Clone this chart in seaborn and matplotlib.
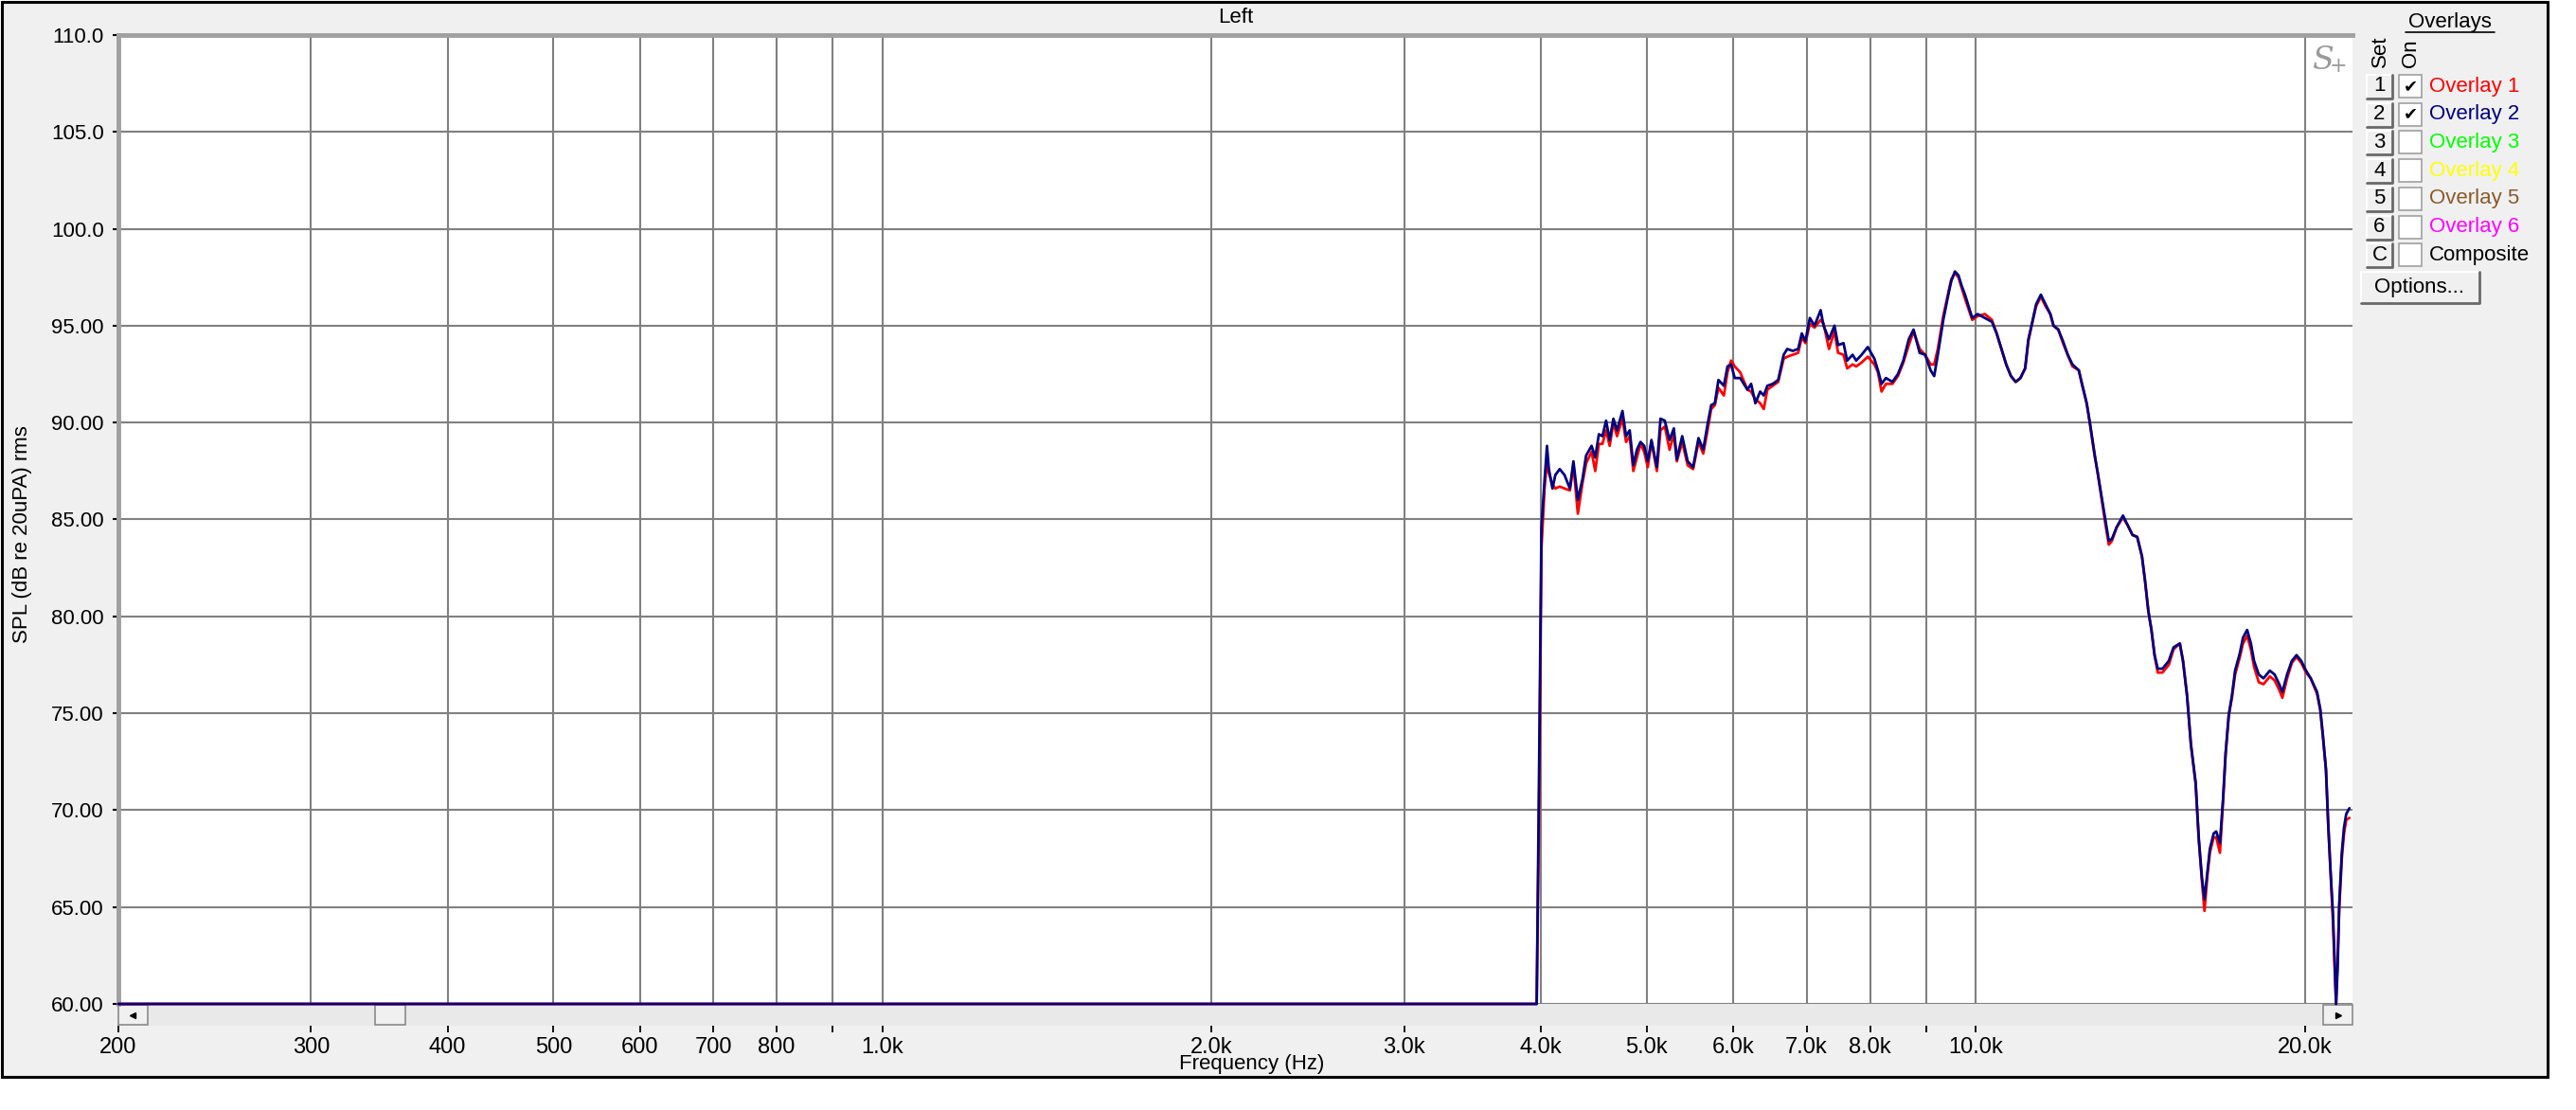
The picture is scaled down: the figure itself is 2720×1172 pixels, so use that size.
import pandas as pd
import matplotlib
matplotlib.use("Agg")
import matplotlib.pyplot as plt
from matplotlib.patches import Rectangle
from matplotlib.lines import Line2D
from matplotlib.ticker import FixedLocator, NullLocator
import seaborn as sns

W, H = 2720, 1172

freq_hz = [
    200, 3965, 3985, 4005, 4031, 4052, 4068, 4099, 4124, 4162, 4204, 4252, 4284, 4324, 4367,
    4400, 4451, 4485, 4520, 4554, 4589, 4624, 4660, 4696, 4750, 4786, 4823, 4860, 4897, 4934,
    4972, 5010, 5049, 5107, 5146, 5193, 5245, 5293, 5326, 5387, 5449, 5512, 5575, 5631, 5682,
    5726, 5770, 5814, 5881, 5926, 5971, 6017, 6086, 6180, 6228, 6284, 6348, 6396, 6445, 6519,
    6594, 6670, 6721, 6799, 6877, 6930, 6983, 7048, 7118, 7210, 7255, 7338, 7423, 7480, 7566,
    7624, 7712, 7771, 7860, 7963, 8074, 8135, 8197, 8273, 8387, 8484, 8582, 8681, 8768, 8882,
    8985, 9089, 9158, 9228, 9335, 9442, 9493, 9566, 9639, 9698, 9772, 9922, 10036, 10190, 10342,
    10446, 10552, 10658, 10765, 10873, 10982, 11092, 11167, 11242, 11350, 11465, 11580, 11696, 11775, 11893,
    12012, 12132, 12254, 12418, 12501, 12626, 12710, 12837, 12923, 13036, 13140, 13228, 13316, 13449, 13629,
    13766, 13905, 14044, 14185, 14280, 14375, 14471, 14567, 14664, 14811, 15010, 15160, 15363, 15466, 15599,
    15725, 15883, 15989, 16096, 16182, 16279, 16366, 16498, 16586, 16717, 16828, 16917, 17030, 17144, 17259,
    17432, 17549, 17702, 17843, 17962, 18142, 18323, 18569, 18755, 18941, 19066, 19256, 19449, 19643, 19839,
    20041, 20240, 20511, 20649, 20760, 20899, 20997, 21095, 21207, 21279, 21349, 21421, 21494, 21609, 21709,
    21810, 21956,
]
overlay2_db = [
    60.0, 60.0, 72.0, 84.6, 87.0, 88.8, 87.6, 86.6, 87.3, 87.6, 87.3, 86.6, 88.0, 86.0, 87.1,
    88.3, 88.8, 88.2, 89.4, 89.3, 90.1, 89.1, 90.2, 89.6, 90.6, 89.3, 89.6, 87.8, 88.6, 89.0,
    88.8, 88.0, 89.1, 87.7, 90.2, 90.1, 89.1, 89.7, 88.1, 89.3, 88.0, 87.7, 89.2, 88.6, 89.9,
    90.9, 91.0, 92.2, 91.9, 92.9, 93.0, 92.3, 92.3, 91.7, 92.0, 91.0, 91.6, 91.4, 91.9, 92.0,
    92.2, 93.5, 93.8, 93.7, 93.8, 94.6, 94.2, 95.4, 95.0, 95.8, 95.0, 94.3, 95.0, 94.0, 94.1,
    93.2, 93.5, 93.2, 93.5, 93.9, 93.3, 92.7, 92.0, 92.3, 92.1, 92.5, 93.2, 94.3, 94.8, 93.6,
    93.5, 92.7, 92.4, 93.5, 95.3, 96.7, 97.3, 97.8, 97.6, 97.1, 96.6, 95.4, 95.6, 95.4, 95.2,
    94.6, 93.8, 93.0, 92.4, 92.1, 92.3, 92.8, 94.3, 95.0, 96.1, 96.6, 96.1, 95.6, 95.0, 94.8,
    94.2, 93.5, 93.0, 92.7, 92.0, 91.0, 90.0, 88.4, 87.4, 86.1, 84.9, 83.9, 84.0, 84.6, 85.2,
    84.7, 84.2, 84.1, 83.1, 81.8, 80.3, 79.3, 78.0, 77.3, 77.3, 77.7, 78.4, 78.6, 77.7, 75.9,
    73.4, 71.4, 68.5, 66.5, 65.4, 66.8, 68.0, 68.8, 68.9, 68.3, 70.6, 72.9, 74.9, 75.9, 77.2,
    78.1, 78.9, 79.3, 78.6, 77.7, 77.0, 76.8, 77.2, 77.0, 76.5, 76.1, 77.0, 77.7, 78.0, 77.7,
    77.2, 76.8, 76.1, 75.2, 73.9, 72.1, 69.3, 67.0, 64.7, 62.4, 60.0, 61.9, 65.2, 67.8, 69.1,
    69.8, 70.1,
]
overlay1_db = [
    60.0, 60.0, 70.0, 83.5, 86.6, 88.0, 87.4, 86.8, 86.6, 86.7, 86.6, 86.5, 87.8, 85.3, 86.9,
    87.9, 88.5, 87.5, 88.9, 88.9, 89.6, 88.8, 90.0, 89.3, 90.2, 89.0, 89.3, 87.5, 88.2, 88.9,
    88.5, 87.7, 89.0, 87.5, 89.6, 89.8, 88.6, 89.4, 88.0, 89.0, 87.8, 87.6, 89.0, 88.4, 89.6,
    90.7, 90.9, 91.8, 91.4, 92.6, 93.2, 92.9, 92.6, 91.7, 91.6, 91.2, 91.0, 90.7, 91.7, 91.9,
    92.1, 93.3, 93.4, 93.5, 93.6, 94.4, 94.1, 95.1, 94.9, 95.3, 95.1, 93.8, 94.7, 93.6, 93.5,
    92.8, 93.0, 92.9, 93.1, 93.4, 93.0, 92.6, 91.6, 92.0, 92.0, 92.4, 93.1, 94.0, 94.7, 93.8,
    93.5, 93.0, 93.0, 93.8, 95.5, 96.8, 97.4, 97.7, 97.5, 97.0, 96.4, 95.3, 95.5, 95.6, 95.3,
    94.6, 93.8, 93.0, 92.4, 92.1, 92.3, 92.8, 94.2, 95.0, 96.0, 96.5, 96.0, 95.6, 95.0, 94.8,
    94.1, 93.5, 92.9, 92.7, 92.0, 91.0, 90.0, 88.3, 87.4, 86.0, 84.7, 83.7, 83.9, 84.6, 85.1,
    84.7, 84.2, 84.1, 83.1, 81.8, 80.3, 79.3, 78.0, 77.1, 77.1, 77.5, 78.3, 78.6, 77.7, 75.9,
    73.4, 71.4, 68.5, 66.3, 64.8, 66.6, 67.8, 68.6, 68.6, 67.8, 70.5, 72.9, 74.9, 75.8, 77.0,
    77.9, 78.6, 79.0, 78.3, 77.4, 76.6, 76.5, 76.9, 76.7, 76.2, 75.8, 76.8, 77.6, 77.9, 77.6,
    77.1, 76.8, 76.0, 75.2, 73.9, 72.1, 69.3, 67.0, 64.3, 62.0, 60.0, 62.5, 65.0, 67.5, 68.8,
    69.5, 69.6,
]

y_ticks = [60, 65, 70, 75, 80, 85, 90, 95, 100, 105, 110]
y_tick_labels = ["60.00", "65.00", "70.00", "75.00", "80.00", "85.00", "90.00", "95.00",
                 "100.0", "105.0", "110.0"]
x_ticks = [200, 300, 400, 500, 600, 700, 800, 900, 1000, 2000, 3000, 4000, 5000, 6000,
           7000, 8000, 9000, 10000, 20000]
x_tick_labels = ["200", "300", "400", "500", "600", "700", "800", "", "1.0k", "2.0k", "3.0k",
                 "4.0k", "5.0k", "6.0k", "7.0k", "8.0k", "", "10.0k", "20.0k"]

overlay_names = ["Overlay 1", "Overlay 2", "Overlay 3", "Overlay 4", "Overlay 5", "Overlay 6", "Composite"]
overlay_colors = ["#FF0000", "#000080", "#00FF00", "#FFFF00", "#8B5A2B", "#FF00FF", "#000000"]
overlay_on = [True, True, False, False, False, False, False]
set_buttons = ["1", "2", "3", "4", "5", "6", "C"]


def fx(px):
    return px / W


def fy(py):
    return 1 - py / H


def button(fig, x0, y0, x1, y1):
    fig.add_artist(Rectangle((fx(x0), fy(y1)), fx(x1) - fx(x0), fy(y0) - fy(y1),
                             transform=fig.transFigure, facecolor="#F0F0F0", edgecolor="none"))
    fig.add_artist(Line2D([fx(x0), fx(x0), fx(x1)], [fy(y1), fy(y0), fy(y0)],
                          transform=fig.transFigure, color="white", lw=1.5))
    fig.add_artist(Line2D([fx(x0), fx(x1), fx(x1)], [fy(y1), fy(y1), fy(y0)],
                          transform=fig.transFigure, color="#696969", lw=2))


sns.set_theme(style="white")
plt.rcParams["font.family"] = ["Liberation Sans", "DejaVu Sans"]

fig = plt.figure(figsize=(W / 100, H / 100), dpi=100)
fig.patch.set_facecolor("white")
fig.add_artist(Rectangle((fx(2), fy(1137)), fx(2690) - fx(2), fy(2) - fy(1137),
                         transform=fig.transFigure, facecolor="#F0F0F0", edgecolor="black",
                         lw=2.2, zorder=-10))

ax = fig.add_axes([fx(125), fy(1060), fx(2484) - fx(125), fy(37) - fy(1060)])
scroll = fig.add_axes([fx(125), fy(1083), fx(2484) - fx(125), fy(1060) - fy(1083)], sharex=ax)
ax.set_zorder(3)

df = pd.DataFrame({
    "freq": freq_hz * 2,
    "spl": overlay1_db + overlay2_db,
    "overlay": ["Overlay 1"] * len(freq_hz) + ["Overlay 2"] * len(freq_hz),
})
sns.lineplot(data=df, x="freq", y="spl", hue="overlay", hue_order=["Overlay 1", "Overlay 2"],
             palette={"Overlay 1": "#FF0000", "Overlay 2": "#000080"}, estimator=None,
             lw=2.0, legend=False, ax=ax)
for ln in ax.lines:
    ln.set_clip_on(False)
    ln.set_zorder(5)

ax.set_xscale("log")
ax.set_xlim(200, 22100)
ax.set_ylim(60, 110)
ax.set_facecolor("white")
ax.xaxis.set_major_locator(FixedLocator(x_ticks))
ax.xaxis.set_minor_locator(NullLocator())
ax.set_yticks(y_ticks)
ax.set_yticklabels(y_tick_labels)
ax.grid(True, color="#808080", lw=1.5)
ax.tick_params(axis="x", length=0, labelbottom=False)
ax.tick_params(axis="y", direction="out", length=4, width=1.5, color="black", pad=7,
               labelsize=16, labelcolor="black", left=True)
ax.set_xlabel("")
ax.set_ylabel("")
for side in ["right", "bottom"]:
    ax.spines[side].set_visible(False)
for side in ["left", "top"]:
    ax.spines[side].set_color("#A0A0A0")
    ax.spines[side].set_linewidth(3.5)

# scrollbar strip under the plot carries the frequency ticks
scroll.set_facecolor("#E9E9E9")
for side in scroll.spines:
    scroll.spines[side].set_visible(False)
scroll.set_yticks([])
scroll.xaxis.set_major_locator(FixedLocator(x_ticks))
scroll.xaxis.set_minor_locator(NullLocator())
scroll.set_xticklabels(x_tick_labels)
scroll.tick_params(axis="x", direction="out", length=5, width=1.3, color="black", pad=4,
                   labelsize=17, labelcolor="black", bottom=True)
scroll.set_xlabel("")
sw = 2484 - 125
for x0, x1 in [(125, 156), (396, 428), (2453, 2484)]:
    scroll.add_patch(Rectangle(((x0 - 125) / sw, 0.04), (x1 - x0) / sw, 0.92,
                               transform=scroll.transAxes, facecolor="#F0F0F0",
                               edgecolor="#8A8A8A", lw=1.2, clip_on=False))
scroll.plot([(140 - 125) / sw], [0.5], marker="<", color="black", ms=5, transform=scroll.transAxes)
scroll.plot([(2469 - 125) / sw], [0.5], marker=">", color="black", ms=5, transform=scroll.transAxes)

fig.text(fx(1305), fy(19), "Left", ha="center", va="center", fontsize=16, color="black")
fig.text(fx(1322), fy(1124), "Frequency (Hz)", ha="center", va="center", fontsize=16, color="black")
fig.text(fx(24), fy(564), "SPL (dB re 20uPA) rms", ha="center", va="center", rotation=90,
         fontsize=16, color="black")
fig.text(fx(2452), fy(64), "S", ha="center", va="center", fontsize=24, color="#9A9A9A",
         family="DejaVu Serif", style="italic")
fig.text(fx(2469), fy(70), "+", ha="center", va="center", fontsize=16, color="#9A9A9A",
         family="DejaVu Serif")

# overlay panel
fig.text(fx(2587), fy(24), "Overlays", ha="center", va="center", fontsize=16, color="black")
fig.add_artist(Line2D([fx(2540), fx(2634)], [fy(34), fy(34)], transform=fig.transFigure,
                      color="black", lw=1.2))
fig.text(fx(2513), fy(71), "Set", ha="center", va="bottom", rotation=90, fontsize=16, color="black")
fig.text(fx(2545), fy(71), "On", ha="center", va="bottom", rotation=90, fontsize=16, color="black")
for i, (name, col, on, key) in enumerate(zip(overlay_names, overlay_colors, overlay_on, set_buttons)):
    yc = 91 + i * 29.7
    button(fig, 2499, yc - 12, 2526, yc + 13)
    fig.text(fx(2512.5), fy(yc), key, ha="center", va="center", fontsize=16, color="black")
    fig.add_artist(Rectangle((fx(2533), fy(yc + 12)), fx(2557) - fx(2533), fy(yc - 12) - fy(yc + 12),
                             transform=fig.transFigure, facecolor="white", edgecolor="#A0A0A0", lw=1.2))
    if on:
        fig.text(fx(2545), fy(yc), "\u2714", ha="center", va="center", fontsize=13,
                 color="black", family="DejaVu Sans")
    fig.text(fx(2565), fy(yc), name, ha="left", va="center", fontsize=16, color=col)
button(fig, 2493, 287, 2618, 320)
fig.text(fx(2555), fy(303), "Options...", ha="center", va="center", fontsize=16, color="black")

fig.savefig("out.png", dpi=100)
